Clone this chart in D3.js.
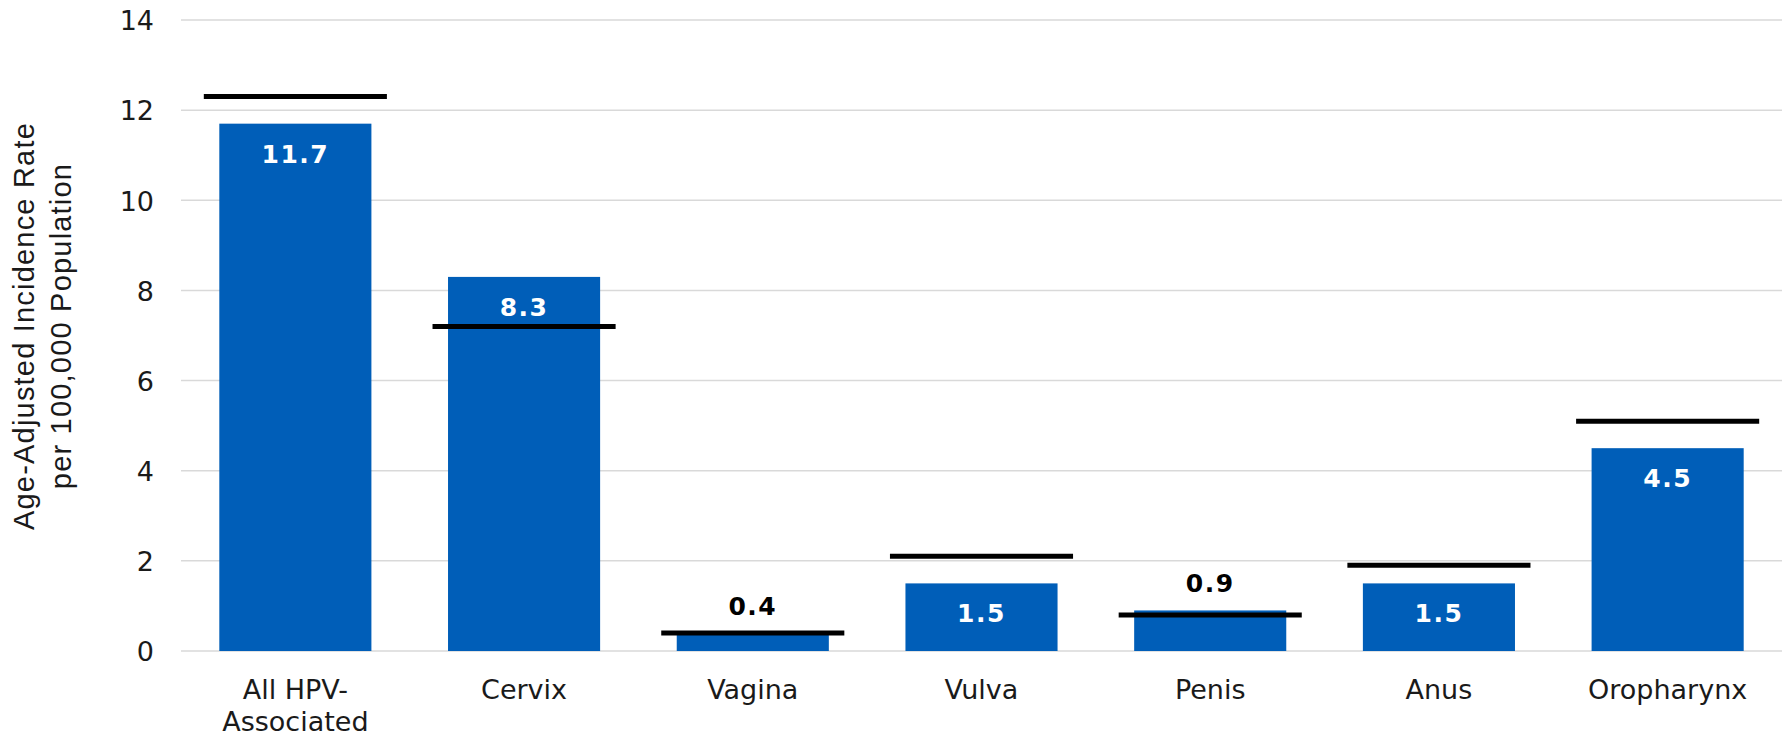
<!DOCTYPE html>
<html>
<head>
<meta charset="utf-8">
<script src="https://cdn.jsdelivr.net/npm/d3@7/dist/d3.min.js"></script>
<style>
  html, body { margin: 0; padding: 0; background: #fff; }
  svg { display: block; }
</style>
</head>
<body>
<svg id="chart" width="1788" height="736"></svg>
<script>
// ---- Data ----
const categories = ["All HPV-\nAssociated", "Cervix", "Vagina", "Vulva", "Penis", "Anus", "Oropharynx"];
const rates = [11.7, 8.3, 0.4, 1.5, 0.9, 1.5, 4.5];
const targets = [12.3, 7.2, 0.4, 2.1, 0.8, 1.9, 5.1];
const yTicks = [0, 2, 4, 6, 8, 10, 12, 14];
const yTitle = ["Age-Adjusted Incidence Rate", "per 100,000 Population"];

// ---- Layout ----
const W = 1788, H = 736;
const plot = { left: 181, right: 1782, top: 20, bottom: 651 };
const svg = d3.select("#chart");

const x = d3.scaleBand()
  .domain(categories)
  .range([plot.left, plot.right])
  .paddingInner(0.335)
  .paddingOuter(0.1675);

const y = d3.scaleLinear().domain([0, 14]).range([plot.bottom, plot.top]);

// Gridlines
svg.append("g")
  .selectAll("line")
  .data(yTicks)
  .join("line")
  .attr("x1", plot.left).attr("x2", plot.right)
  .attr("y1", d => y(d)).attr("y2", d => y(d))
  .attr("stroke", "#d9d9d9").attr("stroke-width", 1.5);

// Y axis (labels only)
const yAxis = d3.axisLeft(y).tickValues(yTicks).tickSize(0).tickPadding(0).tickFormat(d3.format("d"));
const yg = svg.append("g").attr("transform", `translate(${plot.left - 27},0)`).call(yAxis);
yg.select(".domain").remove();
yg.selectAll("text")
  .attr("font-family", "'DejaVu Sans', Verdana, sans-serif")
  .attr("font-size", 27)
  .attr("fill", "#1a1a1a")
  .attr("dy", "0.36em");

// Y title
const yt = svg.append("text")
  .attr("transform", `translate(24, 326) rotate(-90)`)
  .attr("text-anchor", "middle")
  .attr("font-family", "'Liberation Sans', Arial, sans-serif")
  .attr("font-size", 29)
  .attr("letter-spacing", 1.2)
  .attr("fill", "#1a1a1a");
yTitle.forEach((t, i) => {
  yt.append("tspan").attr("x", 0).attr("dy", i === 0 ? "0.35em" : 37).text(t);
});

// Bars
const bw = x.bandwidth();
svg.append("g")
  .selectAll("rect")
  .data(categories)
  .join("rect")
  .attr("x", d => x(d))
  .attr("y", (d, i) => y(rates[i]))
  .attr("width", bw)
  .attr("height", (d, i) => y(0) - y(rates[i]))
  .attr("fill", "#005eb8");

// Target lines
const ext = 15.5;
svg.append("g")
  .selectAll("line")
  .data(categories)
  .join("line")
  .attr("x1", d => x(d) - ext)
  .attr("x2", d => x(d) + bw + ext)
  .attr("y1", (d, i) => y(targets[i]))
  .attr("y2", (d, i) => y(targets[i]))
  .attr("stroke", "#000").attr("stroke-width", 5);

// Value labels
svg.append("g")
  .selectAll("text")
  .data(categories)
  .join("text")
  .attr("x", d => x(d) + bw / 2)
  .attr("y", (d, i) => rates[i] < 1 ? y(rates[i]) - 18 : y(rates[i]) + 39)
  .attr("text-anchor", "middle")
  .attr("font-family", "'DejaVu Sans', Verdana, sans-serif")
  .attr("font-weight", "bold")
  .attr("font-size", 25)
  .attr("letter-spacing", 1.5)
  .attr("fill", (d, i) => rates[i] < 1 ? "#000" : "#fff")
  .text((d, i) => rates[i].toFixed(1));

// X labels
const xl = svg.append("g")
  .selectAll("text")
  .data(categories)
  .join("text")
  .attr("x", d => x(d) + bw / 2)
  .attr("y", 699)
  .attr("text-anchor", "middle")
  .attr("font-family", "'DejaVu Sans', Verdana, sans-serif")
  .attr("font-size", 27)
  .attr("fill", "#1a1a1a");
xl.each(function(d) {
  const lines = d.split("\n");
  const t = d3.select(this);
  lines.forEach((ln, i) => {
    t.append("tspan").attr("x", x(d) + bw / 2).attr("dy", i === 0 ? 0 : 32).text(ln);
  });
});
</script>
</body>
</html>
